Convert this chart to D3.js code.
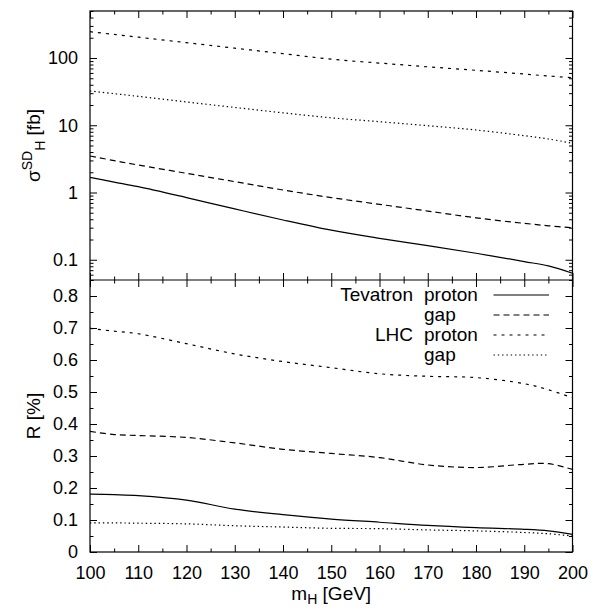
<!DOCTYPE html>
<html><head><meta charset="utf-8">
<script src="https://cdn.jsdelivr.net/npm/d3@7"></script>
<style>body{margin:0;background:#fff}svg text{font-family:"Liberation Sans",Arial,Helvetica,sans-serif;fill:#000}</style>
</head><body><svg id="c" width="603" height="611"></svg>
<script>
// ---- data ----
const mH = [100,105,110,120,130,140,150,160,170,180,190,195,200];
// top panel: sigma^SD_H [fb]
const tevProtonSigma = [1.68,1.43,1.22,0.84,0.57,0.39,0.275,0.208,0.162,0.125,0.094,0.081,0.063];
const tevGapSigma    = [3.49,2.98,2.56,1.93,1.45,1.09,0.84,0.667,0.53,0.42,0.348,0.32,0.30];
const lhcProtonSigma = [246,224,204,169,140,116,96,84,74,65.6,57.8,54,51];
const lhcGapSigma    = [32.3,29.5,26.9,22.2,18.4,15.3,12.9,11.3,9.85,8.5,7.0,6.25,5.4];
// bottom panel: R [%]
const tevProtonR = [0.181,0.179,0.176,0.162,0.134,0.117,0.103,0.093,0.083,0.076,0.071,0.066,0.055];
const tevGapR    = [0.377,0.367,0.364,0.358,0.341,0.321,0.308,0.295,0.272,0.264,0.274,0.276,0.258];
const lhcProtonR = [0.699,0.690,0.682,0.651,0.619,0.595,0.576,0.557,0.549,0.545,0.526,0.507,0.482];
const lhcGapR    = [0.091,0.091,0.090,0.088,0.082,0.078,0.074,0.073,0.069,0.066,0.061,0.057,0.050];
// ticks
const xMajor = [100,110,120,130,140,150,160,170,180,190,200];
const xMinor = [105,115,125,135,145,155,165,175,185,195];
const yTopMajor = [0.1,1,10,100];
const yTopMinor = [0.05,0.06,0.07,0.08,0.09,0.2,0.3,0.4,0.5,0.6,0.7,0.8,0.9,2,3,4,5,6,7,8,9,20,30,40,50,60,70,80,90,200,300,400,500];
const yBotMajor = [0,0.1,0.2,0.3,0.4,0.5,0.6,0.7,0.8];
const yBotMinor = [0.05,0.15,0.25,0.35,0.45,0.55,0.65,0.75,0.85];
const legendCol1 = ["Tevatron","","LHC",""];
const legendCol2 = ["proton","gap","proton","gap"];

const seriesTop = [tevProtonSigma, tevGapSigma, lhcProtonSigma, lhcGapSigma];
const seriesBot = [tevProtonR, tevGapR, lhcProtonR, lhcGapR];
const dashes = [null, "6,4", "3,5", "1.4,2.9"];

// ---- layout ----
const L = 90, R = 572.5, T = 11, M = 280, B = 552;
const svg = d3.select("#c");
const x = d3.scaleLinear().domain([100,200]).range([L,R]);
const yT = d3.scaleLog().domain([0.05,500]).range([M,T]);
const yB = d3.scaleLinear().domain([0,0.85]).range([B,M]);
const FS = 18;

function styleAxis(g){
  g.select(".domain").remove();
  g.attr("font-size", FS).attr("font-family", null);
  g.selectAll("line").attr("stroke","#000").attr("stroke-width",1);
}
function axisGroup(axis, tx, ty){
  svg.append("g").attr("transform",`translate(${tx},${ty})`).call(axis).call(styleAxis);
}
// x axes
axisGroup(d3.axisBottom(x).tickValues(xMajor).tickSize(-7).tickPadding(14.7).tickFormat(d3.format("d")), 0, B);
axisGroup(d3.axisBottom(x).tickValues(xMinor).tickSize(-3.5).tickFormat(""), 0, B);
axisGroup(d3.axisBottom(x).tickValues(xMajor).tickSize(-7).tickFormat(""), 0, M);
axisGroup(d3.axisBottom(x).tickValues(xMinor).tickSize(-3.5).tickFormat(""), 0, M);
axisGroup(d3.axisTop(x).tickValues(xMajor).tickSize(-7).tickFormat(""), 0, M);
axisGroup(d3.axisTop(x).tickValues(xMinor).tickSize(-3.5).tickFormat(""), 0, M);
axisGroup(d3.axisTop(x).tickValues(xMajor).tickSize(-7).tickFormat(""), 0, T);
axisGroup(d3.axisTop(x).tickValues(xMinor).tickSize(-3.5).tickFormat(""), 0, T);
// top y axes
axisGroup(d3.axisLeft(yT).tickValues(yTopMajor).tickSize(-7).tickPadding(12).tickFormat(d3.format("~g")), L, 0);
axisGroup(d3.axisLeft(yT).tickValues(yTopMinor).tickSize(-3.5).tickFormat(""), L, 0);
axisGroup(d3.axisRight(yT).tickValues(yTopMajor).tickSize(-7).tickFormat(""), R, 0);
axisGroup(d3.axisRight(yT).tickValues(yTopMinor).tickSize(-3.5).tickFormat(""), R, 0);
// bottom y axes
axisGroup(d3.axisLeft(yB).tickValues(yBotMajor).tickSize(-7).tickPadding(12).tickFormat(d3.format("~g")), L, 0);
axisGroup(d3.axisLeft(yB).tickValues(yBotMinor).tickSize(-3.5).tickFormat(""), L, 0);
axisGroup(d3.axisRight(yB).tickValues(yBotMajor).tickSize(-7).tickFormat(""), R, 0);
axisGroup(d3.axisRight(yB).tickValues(yBotMinor).tickSize(-3.5).tickFormat(""), R, 0);

// frame
svg.append("rect").attr("x",L).attr("y",T).attr("width",R-L).attr("height",B-T)
  .attr("fill","none").attr("stroke","#000").attr("stroke-width",1.2);
svg.append("line").attr("x1",L).attr("x2",R).attr("y1",M).attr("y2",M)
  .attr("stroke","#000").attr("stroke-width",1.2);

// curves
const curve = d3.curveCatmullRom.alpha(0.5);
const lineTop = d3.line().x((d,i)=>x(mH[i])).y(d=>yT(d)).curve(curve);
const lineBot = d3.line().x((d,i)=>x(mH[i])).y(d=>yB(d)).curve(curve);
seriesTop.forEach((s,k)=>{
  svg.append("path").attr("d",lineTop(s)).attr("fill","none").attr("stroke","#000")
    .attr("stroke-width",1.2).attr("stroke-dasharray",dashes[k]);
});
seriesBot.forEach((s,k)=>{
  svg.append("path").attr("d",lineBot(s)).attr("fill","none").attr("stroke","#000")
    .attr("stroke-width",1.2).attr("stroke-dasharray",dashes[k]);
});

// legend
const lg = svg.append("g").attr("font-size",FS+1);
legendCol2.forEach((t,i)=>{
  const cy = 295 + i*20;
  lg.append("text").attr("x",413).attr("y",cy+6.3).attr("text-anchor","end").text(legendCol1[i]);
  lg.append("text").attr("x",424).attr("y",cy+6.3).text(t);
  lg.append("line").attr("x1",493.5).attr("x2",549).attr("y1",cy).attr("y2",cy)
    .attr("stroke","#000").attr("stroke-width",1.2).attr("stroke-dasharray",dashes[i]);
});

// axis titles
const yl = svg.append("text").attr("transform",`translate(40,${(T+M)/2}) rotate(-90)`)
  .attr("text-anchor","middle").attr("font-size",FS+1);
yl.append("tspan").text("σ");
yl.append("tspan").attr("font-size",14).attr("dy",-8).text("SD");
yl.append("tspan").attr("font-size",14).attr("dy",13).text("H");
yl.append("tspan").attr("dy",-5).text(" [fb]");

svg.append("text").attr("transform",`translate(40,${(M+B)/2}) rotate(-90)`)
  .attr("text-anchor","middle").attr("font-size",FS+1).text("R [%]");

const xl = svg.append("text").attr("x",(L+R)/2).attr("y",600).attr("text-anchor","middle").attr("font-size",FS+1);
xl.append("tspan").text("m");
xl.append("tspan").attr("font-size",14).attr("dy",4).text("H");
xl.append("tspan").attr("dy",-4).text(" [GeV]");
</script></body></html>
